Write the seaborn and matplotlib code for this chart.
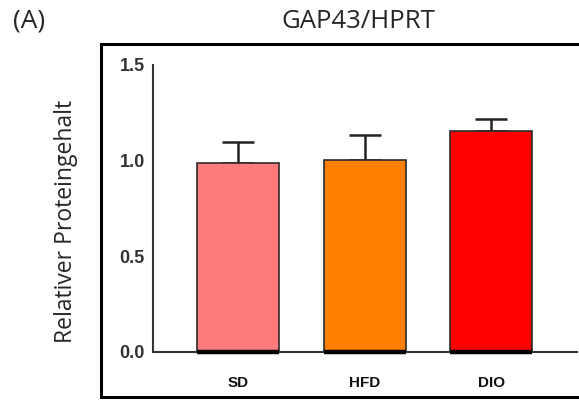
import matplotlib
matplotlib.use("Agg")
import matplotlib.pyplot as plt
from matplotlib.lines import Line2D
import seaborn as sns
import pandas as pd

# Relative GAP43 protein content normalised to HPRT
groups = ["SD", "HFD", "DIO"]
means = [0.99, 1.005, 1.155]
sem = [0.11, 0.13, 0.062]
colors = ["#FF7B7B", "#FF8000", "#FF0000"]
yticks = [0.0, 0.5, 1.0, 1.5]

df = pd.DataFrame({"group": groups, "value": means})

sns.set_style("white")
plt.rcParams["font.family"] = ["Liberation Sans", "DejaVu Sans"]

fig = plt.figure(figsize=(5.79, 4.01), dpi=100)
ax = fig.add_axes([153 / 579, 1 - 352 / 401, (577 - 153) / 579, (352 - 65) / 401])

sns.barplot(data=df, x="group", y="value", hue="group", palette=colors,
            saturation=1, width=0.65, edgecolor="#2b2b2b", linewidth=1.2,
            legend=False, errorbar=None, ax=ax, zorder=2)

# upper error bars only
ax.errorbar(range(len(groups)), means, yerr=[[0] * len(sem), sem], fmt="none",
            ecolor="#222222", elinewidth=1.8, capsize=11.5, capthick=1.8, zorder=1)

# heavy baseline under each bar
for p in ax.patches:
    ax.plot([p.get_x(), p.get_x() + p.get_width()], [0, 0], color="black",
            lw=3.2, solid_capstyle="butt", zorder=3, clip_on=False)

ax.set_xlim(-0.676, 2.68)
ax.set_ylim(0, 1.5)
ax.set_yticks(yticks)
ax.set_yticklabels([f"{t:.1f}" for t in yticks])
ax.set_xlabel("")
ax.set_ylabel("")

for s in ["top", "right"]:
    ax.spines[s].set_visible(False)
for s in ["left", "bottom"]:
    ax.spines[s].set_color("#333333")
    ax.spines[s].set_linewidth(1.5)

ax.tick_params(axis="y", direction="out", length=5, width=1.5, color="#333333",
               labelsize=13, labelcolor="#333333", pad=1)
ax.tick_params(axis="x", length=0, labelsize=11, pad=17)
for lbl in ax.get_yticklabels() + ax.get_xticklabels():
    lbl.set_fontweight("bold")
for lbl in ax.get_xticklabels():
    lbl.set_color("#111111")

# frame around the panel, open at the right edge of the canvas
fx0, fy0, fy1 = 101 / 579, 1 - 397 / 401, 1 - 44 / 401
frame = Line2D([1.0, fx0, fx0, 1.0], [fy1, fy1, fy0, fy0],
               transform=fig.transFigure, color="black", linewidth=2.2,
               solid_joinstyle="miter")
fig.add_artist(frame)

fig.text(358 / 579, 1 - 21 / 401, "GAP43/HPRT", ha="center", va="center",
         fontsize=18.5, family=["Open Sans", "DejaVu Sans"])
fig.text(13 / 579, 1 - 21 / 401, "(A)", ha="left", va="center",
         fontsize=19, family=["Open Sans", "DejaVu Sans"])
fig.text(66 / 579, 1 - 221 / 401, "Relativer Proteingehalt", ha="center",
         va="center", rotation=90, fontsize=16.5, family=["Open Sans", "DejaVu Sans"])

fig.savefig("out.png", dpi=100, facecolor="white")
